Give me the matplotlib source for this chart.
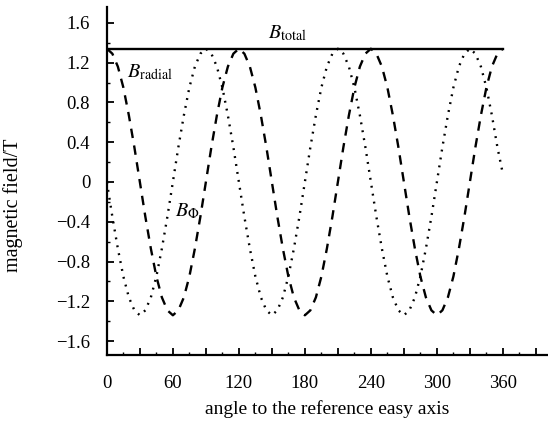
import matplotlib
matplotlib.use('Agg')
import matplotlib.pyplot as plt
from matplotlib.ticker import MultipleLocator

plt.rcParams['font.family'] = ['Liberation Serif', 'DejaVu Serif']
plt.rcParams['mathtext.fontset'] = 'stix'

# angle in degrees, field in tesla
angle = list(range(0, 365, 5))
b_radial = [
    1.34, 1.29, 1.16, 0.95, 0.67, 0.35, 0.00, -0.35, -0.67, -0.95, -1.16, -1.29,
    -1.34, -1.29, -1.16, -0.95, -0.67, -0.35, 0.00, 0.35, 0.67, 0.95, 1.16, 1.29,
    1.34, 1.29, 1.16, 0.95, 0.67, 0.35, 0.00, -0.35, -0.67, -0.95, -1.16, -1.29,
    -1.34, -1.29, -1.16, -0.95, -0.67, -0.35, 0.00, 0.35, 0.67, 0.95, 1.16, 1.29,
    1.34, 1.29, 1.16, 0.95, 0.67, 0.35, 0.00, -0.35, -0.67, -0.95, -1.16, -1.29,
    -1.34, -1.29, -1.16, -0.95, -0.67, -0.35, 0.00, 0.35, 0.67, 0.95, 1.16, 1.29,
    1.34,
]
b_phi = [
    0.00, -0.35, -0.67, -0.95, -1.16, -1.29, -1.34, -1.29, -1.16, -0.95, -0.67, -0.35,
    0.00, 0.35, 0.67, 0.95, 1.16, 1.29, 1.34, 1.29, 1.16, 0.95, 0.67, 0.35,
    0.00, -0.35, -0.67, -0.95, -1.16, -1.29, -1.34, -1.29, -1.16, -0.95, -0.67, -0.35,
    0.00, 0.35, 0.67, 0.95, 1.16, 1.29, 1.34, 1.29, 1.16, 0.95, 0.67, 0.35,
    0.00, -0.35, -0.67, -0.95, -1.16, -1.29, -1.34, -1.29, -1.16, -0.95, -0.67, -0.35,
    0.00, 0.35, 0.67, 0.95, 1.16, 1.29, 1.34, 1.29, 1.16, 0.95, 0.67, 0.35,
    0.08,
]
total_angle = [0, 360]
b_total = [1.34, 1.34]

fig = plt.figure(figsize=(5.48, 4.33), dpi=100)
ax = fig.add_axes([0.195, 0.18, 0.803, 0.804])

ax.plot(total_angle, b_total, color='black', lw=1.7)
ax.plot(angle, b_radial, color='black', lw=1.7, linestyle=(0, (4, 3.2)))
ax.plot(angle, b_phi, color='black', lw=1.7, linestyle=(0, (0.8, 2.6)))

ax.text(164, 1.49, r'$B_{\mathrm{total}}$', fontsize=14.5, ha='center', va='center')
ax.text(18, 1.1, r'$B_{\mathrm{radial}}$', fontsize=14.5, ha='left', va='center')
ax.text(62, -0.3, r'$B_{\Phi}$', fontsize=14.5, ha='left', va='center')

ax.set_xlim(0, 400)
ax.set_ylim(-1.74, 1.76)
ax.spines['top'].set_visible(False)
ax.spines['right'].set_visible(False)
ax.spines['left'].set_linewidth(1.6)
ax.spines['bottom'].set_linewidth(1.6)

xt = list(range(0, 391, 30))
ax.set_xticks(xt)
ax.set_xticklabels([str(v) if v % 60 == 0 and v <= 360 else '' for v in xt])
ax.xaxis.set_minor_locator(MultipleLocator(15))
ax.set_yticks([-1.6, -1.2, -0.8, -0.4, 0, 0.4, 0.8, 1.2, 1.6])
ax.set_yticklabels(['\u22121.6', '\u22121.2', '\u22120.8', '\u22120.4', '0',
                    '0.4', '0.8', '1.2', '1.6'])
ax.yaxis.set_minor_locator(MultipleLocator(0.2))
ax.tick_params(which='major', direction='in', length=5, width=1.3, labelsize=13.5)
ax.tick_params(which='minor', direction='in', length=2.5, width=1.0)
ax.tick_params(axis='x', which='major', pad=14)
ax.tick_params(axis='y', which='major', pad=12)

ax.set_xlabel('angle to the reference easy axis', fontsize=14)
ax.set_ylabel('magnetic field/T', fontsize=14.5)
ax.xaxis.set_label_coords(0.5, -0.13)
ax.yaxis.set_label_coords(-0.19, 0.43)

fig.savefig('out.png', dpi=100)
